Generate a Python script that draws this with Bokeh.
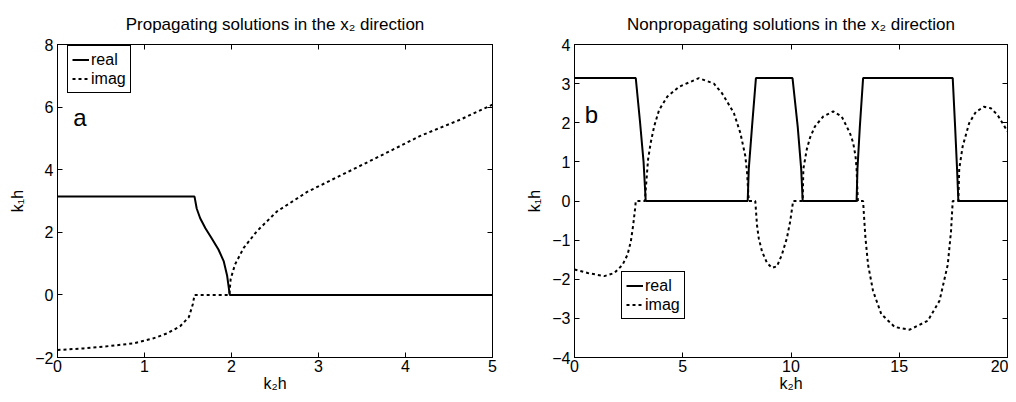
from bokeh.plotting import figure
from bokeh.layouts import row
from bokeh.models import LinearAxis, FixedTicker, Label, Range1d
from bokeh.embed import file_html
from bokeh.resources import INLINE

FONT = "Liberation Sans"

# ---------------- Panel a: propagating solutions ----------------
a_title = "Propagating solutions in the x\u2082 direction"
a_xticks = [0, 1, 2, 3, 4, 5]
a_yticks = [-2, 0, 2, 4, 6, 8]
a_real_x = [0, 1.575, 1.60, 1.64, 1.70, 1.77, 1.85, 1.91, 1.95, 1.98, 5.0]
a_real_y = [3.1416, 3.1416, 2.76, 2.45, 2.13, 1.82, 1.45, 1.08, 0.61, 0.0, 0.0]
a_imag_x = [0, 0.30, 0.61, 0.87, 1.10, 1.26, 1.41, 1.51, 1.556, 1.575, 1.975,
            1.99, 2.04, 2.14, 2.29, 2.52, 2.87, 3.25, 3.71, 4.17, 4.63, 5.0]
a_imag_y = [-1.76, -1.71, -1.63, -1.55, -1.39, -1.23, -1.0, -0.71, -0.29, 0.0, 0.0,
            0.5, 0.97, 1.50, 2.03, 2.66, 3.29, 3.81, 4.44, 5.08, 5.60, 6.08]
a_tag = ("a", 0.18, 5.66)

# ---------------- Panel b: nonpropagating solutions ----------------
b_title = "Nonpropagating solutions in the x\u2082 direction"
b_xticks = [0, 5, 10, 15, 20]
b_yticks = [-4, -3, -2, -1, 0, 1, 2, 3, 4]
b_real_x = [0, 2.83, 3.03, 3.19, 3.29, 8.0, 8.05, 8.2, 8.38, 10.07, 10.31, 10.47, 10.54,
            13.03, 13.07, 13.18, 13.33, 17.47, 17.58, 17.67, 17.73, 20]
b_real_y = [3.1416, 3.1416, 2.0, 1.0, 0, 0, 0.82, 1.9, 3.1416, 3.1416, 1.9, 0.82, 0,
            0, 0.82, 1.9, 3.1416, 3.1416, 1.9, 0.82, 0, 0]
b_imag_x = [0, 0.61, 1.38, 1.84, 2.22, 2.45, 2.60, 2.71, 2.80, 2.83, 3.25,
            3.34, 3.40, 3.52, 3.68, 3.91, 4.29, 4.83, 5.75, 6.44, 6.82, 7.36, 7.66, 7.89, 7.97, 8.05,
            8.35, 8.43, 8.51, 8.66, 8.89, 9.12, 9.35, 9.58, 9.81, 9.96, 10.07, 10.1, 10.54,
            10.57, 10.73, 10.88, 11.11, 11.49, 11.95, 12.34, 12.72, 12.87, 12.98, 13.03, 13.07, 13.09,
            13.33, 13.38, 13.44, 13.56, 13.79, 14.17, 14.79, 15.48, 16.32, 16.86, 17.24, 17.39, 17.47,
            17.73, 17.77, 17.93, 18.23, 18.54, 18.92, 19.23, 19.54, 20.0]
b_imag_y = [-1.75, -1.84, -1.92, -1.84, -1.63, -1.37, -1.04, -0.62, -0.19, 0, 0,
            0.65, 1.07, 1.49, 1.91, 2.33, 2.67, 2.92, 3.14, 3.0, 2.75, 2.25, 1.74, 1.15, 0.73, 0,
            0, -0.62, -0.95, -1.29, -1.58, -1.71, -1.67, -1.37, -0.95, -0.53, -0.11, 0, 0,
            0.82, 1.32, 1.62, 1.91, 2.16, 2.29, 2.16, 1.74, 1.49, 1.15, 0.82, 0.23, 0,
            0, -0.45, -0.95, -1.63, -2.30, -2.89, -3.22, -3.29, -3.06, -2.55, -1.63, -0.78, 0,
            0, 0.82, 1.40, 1.99, 2.28, 2.41, 2.37, 2.20, 1.78]
b_tag = ("b", 0.47, 2.2)

series_labels = ["real", "imag"]
x_label = "k\u2082h"
y_label = "k\u2081h"


def minus(t):
    return ("\u2212" + str(-t)) if t < 0 else str(t)


def make_panel(title, xr, yr, xticks, yticks, rx, ry, ix, iy, tag, width, bl, br, legend_loc):
    p = figure(width=width, height=394, output_backend="svg", toolbar_location=None,
               x_range=Range1d(*xr), y_range=Range1d(*yr),
               min_border_left=bl, min_border_right=br, min_border_top=44, min_border_bottom=33)
    p.title.text = title
    p.title.align = "center"
    p.title.text_font = FONT
    p.title.text_font_size = "17px"
    p.title.text_font_style = "normal"
    p.title.text_color = "black"
    p.title.standoff = 21
    p.grid.visible = False
    p.outline_line_color = "black"
    p.outline_line_width = 1
    p.outline_line_alpha = 1
    for ax, ticks in ((p.xaxis[0], xticks), (p.yaxis[0], yticks)):
        ax.ticker = FixedTicker(ticks=ticks)
        ax.major_label_overrides = {t: minus(t) for t in ticks}
        ax.major_tick_in = 5
        ax.major_tick_out = 0
        ax.minor_tick_line_color = None
        ax.major_label_text_font = FONT
        ax.major_label_text_font_size = "16px"
        ax.major_label_text_color = "black"
        ax.axis_label_text_font = FONT
        ax.axis_label_text_font_size = "16px"
        ax.axis_label_text_font_style = "normal"
        ax.axis_label_text_color = "black"
        ax.axis_line_color = "black"
        ax.major_tick_line_color = "black"
    p.xaxis[0].axis_label = x_label
    p.yaxis[0].axis_label = y_label
    p.xaxis[0].major_label_standoff = 2
    p.xaxis[0].axis_label_standoff = 0
    p.yaxis[0].major_label_standoff = 4
    p.yaxis[0].axis_label_standoff = 6
    for ticks, side in ((xticks, "above"), (yticks, "right")):
        ax = LinearAxis(ticker=FixedTicker(ticks=ticks), major_tick_in=5, major_tick_out=0,
                        minor_tick_line_color=None, major_label_text_font_size="0px",
                        major_label_standoff=0, major_label_overrides={t: "" for t in ticks},
                        axis_line_color="black", major_tick_line_color="black")
        p.add_layout(ax, side)

    p.line(rx, ry, line_color="black", line_width=2, legend_label=series_labels[0])
    p.line(ix, iy, line_color="black", line_width=2, line_dash="3 3", legend_label=series_labels[1])

    lg = p.legend[0]
    lg.location = legend_loc
    lg.border_line_color = "black"
    lg.border_line_width = 1
    lg.border_line_alpha = 1
    lg.background_fill_color = "white"
    lg.background_fill_alpha = 1
    lg.padding = 4
    lg.spacing = 0
    lg.margin = 0
    lg.label_standoff = 2
    lg.glyph_width = 17
    lg.glyph_height = 19
    lg.label_height = 19
    lg.label_text_font = FONT
    lg.label_text_font_size = "16px"
    lg.label_text_color = "black"

    p.add_layout(Label(x=tag[1], y=tag[2], text=tag[0], text_font=FONT,
                       text_font_size="24px", text_color="black", text_baseline="alphabetic"))
    return p


p1 = make_panel(a_title, (0, 5), (-2, 8), a_xticks, a_yticks, a_real_x, a_real_y,
                a_imag_x, a_imag_y, a_tag, 523, 57, 31, (10, 264))
p2 = make_panel(b_title, (0, 20), (-4, 4), b_xticks, b_yticks, b_real_x, b_real_y,
                b_imag_x, b_imag_y, b_tag, 485, 49, 1, (47, 38))

layout = row(p1, p2)
open("out.html", "w").write(file_html(layout, INLINE))
